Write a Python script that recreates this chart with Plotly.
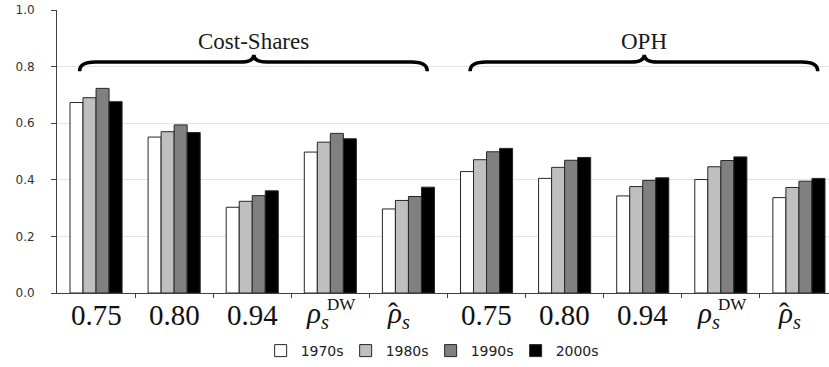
import plotly.graph_objects as go

# Two measurement families, five elasticity settings each
groups = ["Cost-Shares", "OPH"]
tick_labels = ["0.75", "0.80", "0.94",
               "<i>ρ</i><sub><i>s</i></sub>", "<i>ρ</i><sub><i>s</i></sub>"] * 2
tick_sups = ["", "", "", "DW", ""] * 2
tick_hats = ["", "", "", "", "ˆ"] * 2
decades = ["1970s", "1980s", "1990s", "2000s"]

v1970 = [0.673, 0.551, 0.303, 0.498, 0.297, 0.429, 0.405, 0.343, 0.401, 0.337]
v1980 = [0.690, 0.570, 0.324, 0.533, 0.327, 0.471, 0.444, 0.376, 0.446, 0.373]
v1990 = [0.723, 0.594, 0.344, 0.564, 0.341, 0.499, 0.469, 0.398, 0.468, 0.395]
v2000 = [0.676, 0.567, 0.361, 0.545, 0.374, 0.511, 0.479, 0.407, 0.481, 0.405]

series = [v1970, v1980, v1990, v2000]
fills = ["#FFFFFF", "#BFBFBF", "#808080", "#000000"]
pos = list(range(len(tick_labels)))

fig = go.Figure()
for name, vals, col in zip(decades, series, fills):
    fig.add_trace(go.Bar(
        x=pos, y=vals, name=name,
        marker=dict(color=col, line=dict(color="#262626", width=1)),
    ))

SERIF = "Liberation Serif"
SANS = "DejaVu Sans"
INK = "#111111"

annotations = []
# category labels under the axis
for i, (lab, sup, hat) in enumerate(zip(tick_labels, tick_sups, tick_hats)):
    common = dict(xref="x", yref="paper", showarrow=False, yanchor="middle")
    if not (sup or hat):
        annotations.append(dict(x=i, y=-0.078, text=lab, xanchor="center",
                                font=dict(family=SERIF, size=29, color=INK), **common))
        continue
    shift = -26 if sup else -23
    annotations.append(dict(x=i, y=-0.078, text=lab, xanchor="left", xshift=shift,
                            font=dict(family=SERIF, size=29, color=INK), **common))
    if sup:
        annotations.append(dict(x=i, y=-0.04, text=sup, xanchor="left", xshift=-5,
                                font=dict(family=SERIF, size=17, color=INK), **common))
    if hat:
        annotations.append(dict(x=i, y=-0.07, text=hat, xanchor="left", xshift=shift + 1,
                                font=dict(family=SERIF, size=30, color=INK), **common))

# curly braces with group titles
shapes = []
n_per = 5
for g, title in enumerate(groups):
    first = g * n_per
    last = first + n_per - 1
    x0, x1 = first - 0.21, last + 0.24
    xc = (first + last) / 2 + 0.02
    yb, ym, yp = 0.784, 0.816, 0.842
    a, b = 0.2, 0.17
    path = (f"M {x0},{yb} Q {x0},{ym} {x0 + a},{ym} "
            f"L {xc - b},{ym} Q {xc},{ym} {xc},{yp} "
            f"Q {xc},{ym} {xc + b},{ym} "
            f"L {x1 - a},{ym} Q {x1},{ym} {x1},{yb}")
    shapes.append(dict(type="path", path=path, xref="x", yref="y",
                       line=dict(color="#000000", width=3.5)))
    annotations.append(dict(x=xc, y=0.89, xref="x", yref="y", text=title,
                            showarrow=False, xanchor="center", yanchor="middle",
                            font=dict(family=SERIF, size=23, color="#1a1a1a")))

fig.update_layout(
    width=829, height=367,
    margin=dict(l=57, r=0, t=10, b=74),
    paper_bgcolor="white", plot_bgcolor="white",
    barmode="group", bargap=0.333, bargroupgap=0,
    showlegend=True,
    legend=dict(orientation="h", x=0.484, xanchor="center", y=-0.205, yanchor="middle",
                font=dict(family=SANS, size=14, color="#222222"),
                entrywidth=40, itemwidth=30, traceorder="normal"),
    xaxis=dict(range=[-0.5, 9.385], showgrid=False, zeroline=False,
               showline=True, linecolor="#404040", linewidth=1,
               tickmode="array", tickvals=[p + 0.5 for p in pos[:-1]],
               showticklabels=False,
               ticks="outside", ticklen=4, tickcolor="#404040"),
    yaxis=dict(range=[0, 1], tickmode="linear", tick0=0, dtick=0.2, tickformat=".1f",
               showgrid=True, gridcolor="#E3E3E3", gridwidth=1, zeroline=False,
               showline=True, linecolor="#404040", linewidth=1,
               ticks="outside", ticklen=5, tickcolor="#404040",
               ticklabelstandoff=14,
               tickfont=dict(family=SANS, size=12, color="#333333")),
    shapes=shapes,
    annotations=annotations,
)

fig.write_html("out.html")
